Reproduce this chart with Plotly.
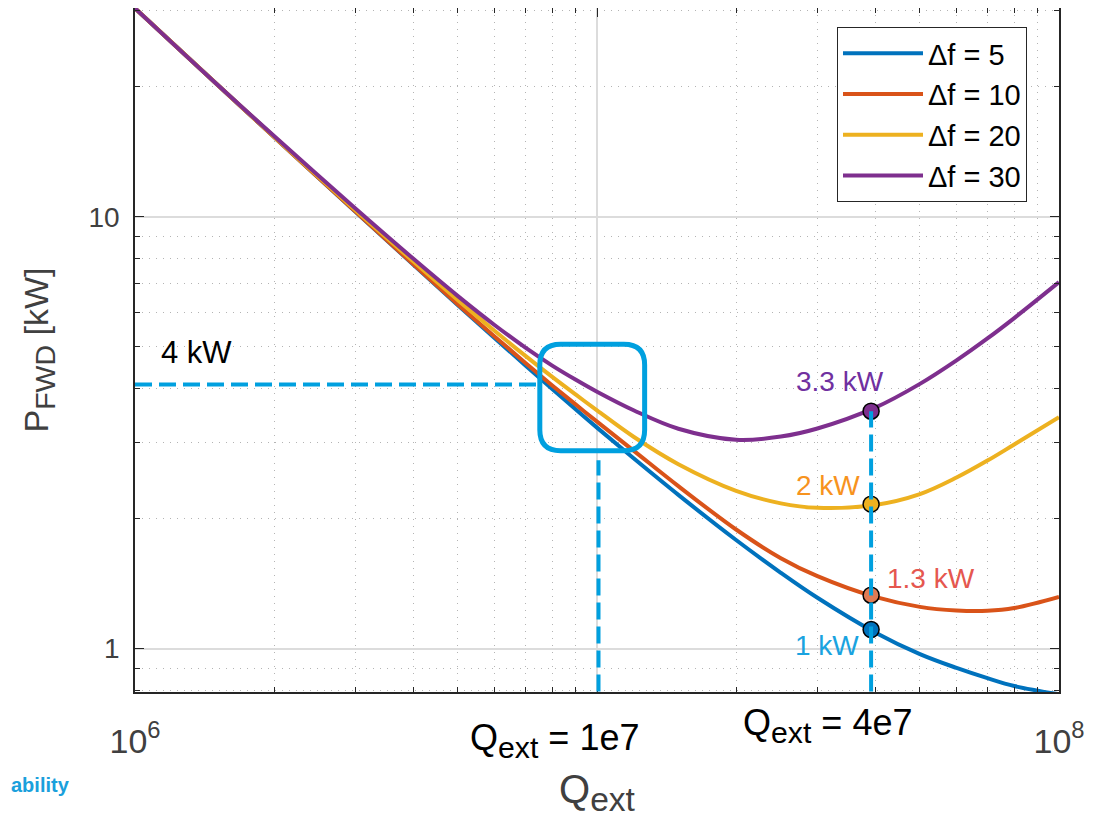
import numpy as np
import plotly.graph_objects as go

# ---------------- data ----------------
q_ext = [1e6, 1.5e6, 2e6, 3e6, 4e6, 5e6, 6e6, 7e6, 8e6, 9e6, 1e7, 1.2e7, 1.5e7,
         2e7, 2.5e7, 3e7, 4e7, 5e7, 6e7, 7e7, 8e7, 1e8]
p_df5 = [30.40, 20.33, 15.30, 10.27, 7.754, 6.243, 5.242, 4.526, 3.992, 3.579, 3.249,
         2.759, 2.270, 1.784, 1.498, 1.311, 1.090, 0.971, 0.902, 0.854, 0.819, 0.784]
p_df10 = [30.40, 20.33, 15.31, 10.28, 7.771, 6.266, 5.284, 4.587, 4.069, 3.672, 3.354,
          2.874, 2.378, 1.887, 1.619, 1.471, 1.317, 1.249, 1.225, 1.223, 1.241, 1.317]
p_df20 = [30.40, 20.33, 15.33, 10.36, 7.887, 6.412, 5.445, 4.762, 4.257, 3.872, 3.562,
          3.094, 2.673, 2.319, 2.169, 2.118, 2.151, 2.279, 2.489, 2.725, 2.970, 3.435]
p_df30 = [30.40, 20.33, 15.38, 10.45, 8.002, 6.551, 5.616, 4.977, 4.523, 4.193, 3.934,
          3.564, 3.230, 3.046, 3.097, 3.234, 3.614, 4.103, 4.651, 5.228, 5.828, 7.057]

series_names = ["Δf = 5", "Δf = 10", "Δf = 20", "Δf = 30"]
series_values = [p_df5, p_df10, p_df20, p_df30]
series_colors = ["#0072BD", "#D95319", "#EDB120", "#7E2F8E"]

# operating points at Qext ~ 4e7
marker_q = 3.92e7
marker_p = [1.107, 1.329, 2.160, 3.546]
marker_colors = ["#0072BD", "#E07B54", "#EDB120", "#7E2F8E"]
marker_labels = ["1 kW", "1.3 kW", "2 kW", "3.3 kW"]
label_q = [3.14e7, 5.29e7, 3.155e7, 3.35e7]
label_p = [1.018, 1.453, 2.39, 4.147]
label_colors = ["#1AA3E0", "#E5574F", "#F7931E", "#7030A0"]

# guide lines / highlight box
hline_p = 4.09
hline_q_end = 7.43e6
vline_q1 = 1.0075e7
vline_q1_top = 2.731
box_q = [7.52e6, 1.268e7]
box_p = [2.873, 5.07]
four_kw_q, four_kw_p = 1.36e6, 4.86

x_tick_vals = [1e6, 1e7, 1e8]
x_tick_text = ["10<sup>6</sup>", "", "10<sup>8</sup>"]
x_minor = [2e6, 3e6, 4e6, 5e6, 6e6, 7e6, 8e6, 9e6, 2e7, 3e7, 4e7, 5e7, 6e7, 7e7, 8e7, 9e7]
y_tick_vals = [1, 10]
y_tick_text = ["1", "10"]
y_minor = [0.8, 0.9, 2, 3, 4, 5, 6, 7, 8, 9, 20, 30]

ACCENT = "#00A0DF"
FONT = "Liberation Sans, Arial, sans-serif"
SUB = lambda s: f"<sub><span style='font-size:120%'>{s}</span></sub>"

# plot-area geometry (page pixels; the page has an 8 px body margin)
PL, PR, PT, PB = 135, 1059, 8, 692
W, H = 1099, 816
px2paper_y = lambda py: 1 - (py - PT) / (PB - PT)
px2paper_x = lambda px: (px - PL) / (PR - PL)

fig = go.Figure()
for name, vals, col in zip(series_names, series_values, series_colors):
    fig.add_trace(go.Scatter(x=q_ext, y=vals, mode="lines", name=name,
                             line=dict(color=col, width=4, shape="spline", smoothing=1.0)))

# guide lines
fig.add_shape(type="line", x0=q_ext[0], x1=hline_q_end, y0=hline_p, y1=hline_p,
              line=dict(color=ACCENT, width=4, dash="17px,7px"), layer="above")
fig.add_shape(type="line", x0=vline_q1, x1=vline_q1, y0=0.7, y1=vline_q1_top,
              line=dict(color=ACCENT, width=4, dash="17px,7px"), layer="above")
fig.add_shape(type="line", x0=marker_q, x1=marker_q, y0=0.7, y1=marker_p[3],
              line=dict(color=ACCENT, width=4, dash="17px,7px"), layer="above")

# rounded highlight box
lx0, lx1 = np.log10(box_q)
ly0, ly1 = np.log10(box_p)
rx, ry = 0.045, 0.048
pts = lambda x, y: f"{10**x:.1f},{10**y:.5f}"
path = (f"M {pts(lx0+rx, ly1)} L {pts(lx1-rx, ly1)} Q {pts(lx1, ly1)} {pts(lx1, ly1-ry)} "
        f"L {pts(lx1, ly0+ry)} Q {pts(lx1, ly0)} {pts(lx1-rx, ly0)} "
        f"L {pts(lx0+rx, ly0)} Q {pts(lx0, ly0)} {pts(lx0, ly0+ry)} "
        f"L {pts(lx0, ly1-ry)} Q {pts(lx0, ly1)} {pts(lx0+rx, ly1)} Z")
fig.add_shape(type="path", path=path, line=dict(color=ACCENT, width=5), layer="above")

# markers
fig.add_trace(go.Scatter(x=[marker_q]*4, y=marker_p, mode="markers", showlegend=False,
                         marker=dict(size=16, color=marker_colors,
                                     line=dict(color="black", width=1.5))))

# value labels
for t, q, p, c in zip(marker_labels, label_q, label_p, label_colors):
    fig.add_annotation(x=np.log10(q), y=np.log10(p), text=t, showarrow=False,
                       xanchor="center", yanchor="middle",
                       font=dict(size=28, color=c, family=FONT))
fig.add_annotation(x=np.log10(four_kw_q), y=np.log10(four_kw_p), text="4 kW", showarrow=False,
                   xanchor="center", yanchor="middle",
                   font=dict(size=31, color="black", family=FONT))

# Qext annotations below the axis
fig.add_annotation(x=np.log10(8.08e6), yref="paper", y=px2paper_y(740),
                   text="Q" + SUB("ext") + " = 1e7", xanchor="center", yanchor="middle",
                   showarrow=False, font=dict(size=36, color="black", family=FONT))
fig.add_annotation(x=np.log10(3.16e7), yref="paper", y=px2paper_y(725),
                   text="Q" + SUB("ext") + " = 4e7", xanchor="center", yanchor="middle",
                   showarrow=False, font=dict(size=36, color="black", family=FONT))
fig.add_annotation(xref="paper", x=px2paper_x(72), xanchor="right", yref="paper",
                   y=px2paper_y(785), yanchor="middle",
                   text="<b>ability</b>", showarrow=False,
                   font=dict(size=20, color="#1AA0DC", family=FONT))

axis_common = dict(type="log", ticks="inside", tickcolor="#262626", tickwidth=1,
                   showline=True, linecolor="#262626", linewidth=1.5, mirror="ticks",
                   showgrid=True, gridcolor="#dcdcdc", gridwidth=1.5, zeroline=False)
minor_common = dict(tickmode="array", ticks="inside", ticklen=5, tickcolor="#262626",
                    showgrid=True, gridcolor="#b4b4b4", griddash="1px,6px", gridwidth=1)

fig.update_xaxes(**axis_common, range=[6, 8], tickmode="array", tickvals=x_tick_vals,
                 ticktext=x_tick_text, ticklen=9,
                 tickfont=dict(size=34, color="#404040", family=FONT), ticklabelstandoff=18,
                 minor=dict(**minor_common, tickvals=x_minor),
                 title=dict(text="Q" + SUB("ext"), font=dict(size=40, color="#404040", family=FONT),
                            standoff=16))
fig.update_yaxes(**axis_common, range=[np.log10(0.7933), np.log10(30.45)], tickmode="array",
                 tickvals=y_tick_vals, ticktext=y_tick_text, ticklen=9,
                 tickfont=dict(size=28, color="#404040", family=FONT), ticklabelstandoff=8,
                 minor=dict(**minor_common, tickvals=y_minor),
                 title=dict(text="P" + SUB("FWD") + " [kW]",
                            font=dict(size=34, color="#404040", family=FONT), standoff=30))

fig.update_layout(
    width=W, height=H,
    margin=dict(l=PL - 8, r=W - (PR - 8), t=PT - 8, b=H - (PB - 8), autoexpand=False),
    paper_bgcolor="white", plot_bgcolor="white",
    font=dict(family=FONT, color="#404040"),
    legend=dict(x=px2paper_x(837), y=px2paper_y(27), xanchor="left", yanchor="top",
                bgcolor="white", bordercolor="#262626", borderwidth=1,
                font=dict(size=29, color="black", family=FONT), itemwidth=80),
)

fig.write_html("out.html")
